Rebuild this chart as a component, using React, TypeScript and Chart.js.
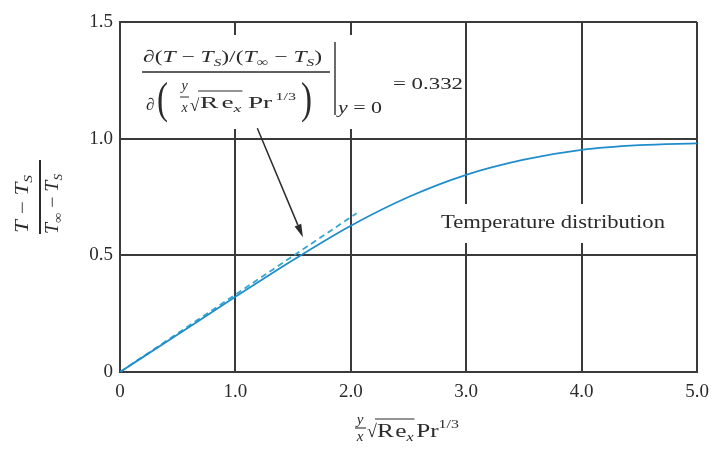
import React, { useEffect, useRef } from 'react';
import { Chart, registerables } from 'chart.js';

Chart.register(...registerables);

// Dimensionless boundary-layer coordinate (y/x)·√Re_x·Pr^(1/3)
const etaPoints = [0, 0.5, 1.0, 1.5, 2.0, 2.5, 3.0, 3.5, 4.0, 4.5, 5.0];
// Dimensionless temperature (T − T_S)/(T_∞ − T_S)
const thetaPoints = [0, 0.161, 0.322, 0.48, 0.627, 0.75, 0.845, 0.91, 0.952, 0.972, 0.98];
// Wall tangent, slope 0.332
const tangentEta = [0, 2.05];
const tangentTheta = [0, 0.68];

const xTickLabels = ['0', '1.0', '2.0', '3.0', '4.0', '5.0'];
const yTickLabels = ['0', '0.5', '1.0', '1.5'];
const slopeText = '= 0.332';
const curveText = 'Temperature distribution';
// Leader arrow from the gradient formula to the tangent line (axis units)
const arrowTail = [1.19, 1.045];
const arrowHead = [1.585, 0.578];

const SERIF = '"Liberation Serif", "Times New Roman", serif';
const INK = '#2b2b2b';
const GRID = '#3a3a3a';

type Run = { t: string; size?: number; it?: boolean; dy?: number; dx?: number };

function font(size: number, it?: boolean) {
  return `${it ? 'italic ' : ''}${size}px ${SERIF}`;
}

// Draws a row of text pieces; optionally stretched to a given width.
// Returns the canvas x range of every piece.
function drawRuns(
  ctx: CanvasRenderingContext2D,
  runs: Run[],
  x: number,
  y: number,
  width?: number,
  align: 'left' | 'center' = 'left'
): [number, number][] {
  let total = 0;
  const widths = runs.map((r) => {
    ctx.font = font(r.size ?? 17, r.it);
    const w = ctx.measureText(r.t).width;
    total += w + (r.dx ?? 0);
    return w;
  });
  const s = width ? width / total : 1;
  const x0 = align === 'center' ? x - (total * s) / 2 : x;
  const spans: [number, number][] = [];
  ctx.save();
  ctx.translate(x0, y);
  ctx.scale(s, 1);
  ctx.textAlign = 'left';
  ctx.textBaseline = 'alphabetic';
  let cx = 0;
  runs.forEach((r, i) => {
    cx += r.dx ?? 0;
    ctx.font = font(r.size ?? 17, r.it);
    ctx.fillText(r.t, cx, r.dy ?? 0);
    spans.push([x0 + cx * s, x0 + (cx + widths[i]) * s]);
    cx += widths[i];
  });
  ctx.restore();
  return spans;
}

function text(ctx: CanvasRenderingContext2D, t: string, x: number, y: number, size: number, it = false, align: CanvasTextAlign = 'left') {
  ctx.font = font(size, it);
  ctx.textAlign = align;
  ctx.textBaseline = 'alphabetic';
  ctx.fillText(t, x, y);
}

function hline(ctx: CanvasRenderingContext2D, x1: number, x2: number, y: number, w = 1.3) {
  ctx.beginPath();
  ctx.lineWidth = w;
  ctx.moveTo(x1, y);
  ctx.lineTo(x2, y);
  ctx.stroke();
}

const annotationPlugin = {
  id: 'heatTransferNotes',
  beforeDatasetsDraw(chart: any) {
    const { ctx } = chart;
    ctx.save();
    ctx.fillStyle = '#ffffff';
    // backdrop of the gradient formula
    ctx.fillRect(124, 35, 338, 94);
    // backdrop of the curve caption
    ctx.fillRect(436, 204, 232, 39);
    ctx.restore();
  },
  afterDraw(chart: any) {
    const { ctx, scales } = chart;
    const xs = scales.x;
    const ys = scales.y;
    ctx.save();
    ctx.fillStyle = INK;
    ctx.strokeStyle = INK;

    // ---- gradient formula ----
    drawRuns(
      ctx,
      [
        { t: '∂(' },
        { t: 'T', it: true },
        { t: ' − ' },
        { t: 'T', it: true },
        { t: 'S', it: true, size: 11, dy: 4 },
        { t: ')/(' },
        { t: 'T', it: true },
        { t: '∞', size: 12, dy: 4 },
        { t: ' − ' },
        { t: 'T', it: true },
        { t: 'S', it: true, size: 11, dy: 4 },
        { t: ')' },
      ],
      143,
      62,
      179
    );
    hline(ctx, 142, 330, 72, 1.4);
    text(ctx, '∂', 146, 110, 17);
    ctx.save();
    ctx.translate(157, 113);
    ctx.scale(0.75, 1);
    text(ctx, '(', 0, 0, 44);
    ctx.restore();
    text(ctx, 'y', 184.5, 90, 14, true, 'center');
    hline(ctx, 180, 189, 97, 1);
    text(ctx, 'x', 184.5, 112, 14, true, 'center');
    text(ctx, '√', 190, 111, 17);
    const den = drawRuns(
      ctx,
      [
        { t: 'R' },
        { t: 'e', dx: 2 },
        { t: 'x', it: true, size: 11, dy: 4 },
        { t: 'Pr', dx: 4 },
        { t: '1/3', size: 10, dy: -8, dx: 2 },
      ],
      200,
      108,
      96
    );
    hline(ctx, 198, den[2][1] + 1, 91, 1);
    ctx.save();
    ctx.translate(301, 113);
    ctx.scale(0.75, 1);
    text(ctx, ')', 0, 0, 44);
    ctx.restore();
    // evaluation bar
    ctx.beginPath();
    ctx.lineWidth = 1.4;
    ctx.moveTo(335, 42);
    ctx.lineTo(335, 115);
    ctx.stroke();
    drawRuns(ctx, [{ t: 'y', it: true }, { t: ' = 0' }], 338, 113, 44, 'left');
    drawRuns(ctx, [{ t: slopeText }], 393, 89, 70);

    // ---- curve caption ----
    drawRuns(ctx, [{ t: curveText, size: 18 }], 441, 228, 224);

    // ---- leader arrow ----
    const tx = xs.getPixelForValue(arrowTail[0]);
    const ty = ys.getPixelForValue(arrowTail[1]);
    const hx = xs.getPixelForValue(arrowHead[0]);
    const hy = ys.getPixelForValue(arrowHead[1]);
    const ang = Math.atan2(hy - ty, hx - tx);
    const len = 13;
    const half = 3.6;
    const bx = hx - len * Math.cos(ang);
    const by = hy - len * Math.sin(ang);
    ctx.beginPath();
    ctx.lineWidth = 1.5;
    ctx.moveTo(tx, ty);
    ctx.lineTo(bx, by);
    ctx.stroke();
    ctx.beginPath();
    ctx.moveTo(hx, hy);
    ctx.lineTo(bx + half * Math.sin(ang), by - half * Math.cos(ang));
    ctx.lineTo(bx - half * Math.sin(ang), by + half * Math.cos(ang));
    ctx.closePath();
    ctx.fill();

    // ---- y-axis title (rotated fraction) ----
    ctx.save();
    ctx.translate(40, 197);
    ctx.rotate(-Math.PI / 2);
    drawRuns(
      ctx,
      [
        { t: 'T', it: true, size: 18 },
        { t: ' − ', size: 18 },
        { t: 'T', it: true, size: 18 },
        { t: 'S', it: true, size: 12, dy: 4 },
      ],
      -7,
      -12,
      58,
      'center'
    );
    drawRuns(
      ctx,
      [
        { t: 'T', it: true, size: 18 },
        { t: '∞', size: 13, dy: 4 },
        { t: ' − ', size: 18 },
        { t: 'T', it: true, size: 18 },
        { t: 'S', it: true, size: 12, dy: 4 },
      ],
      -7,
      18,
      60,
      'center'
    );
    ctx.fillRect(-37, -1, 74, 2);
    ctx.restore();

    // ---- x-axis title ----
    text(ctx, 'y', 360, 424, 15, true, 'center');
    hline(ctx, 355, 366, 428, 1.1);
    text(ctx, 'x', 360, 441, 15, true, 'center');
    text(ctx, '√', 367, 437, 18);
    const ax = drawRuns(
      ctx,
      [
        { t: 'R', size: 19 },
        { t: 'e', size: 19, dx: 1 },
        { t: 'x', it: true, size: 12, dy: 4 },
        { t: 'Pr', size: 19, dx: 2 },
        { t: '1/3', size: 12, dy: -9 },
      ],
      377,
      437,
      82
    );
    hline(ctx, 375, ax[2][1] + 1, 419, 1.1);

    ctx.restore();
  },
};

export default function App() {
  const canvasRef = useRef<HTMLCanvasElement | null>(null);

  useEffect(() => {
    const canvas = canvasRef.current;
    if (!canvas) return;
    const chart = new Chart(canvas, {
      type: 'line',
      data: {
        datasets: [
          {
            label: 'Temperature distribution',
            data: etaPoints.map((x, i) => ({ x, y: thetaPoints[i] })),
            borderColor: '#1f8dcc',
            borderWidth: 1.8,
            pointRadius: 0,
            cubicInterpolationMode: 'monotone',
            fill: false,
          },
          {
            label: 'Wall gradient',
            data: tangentEta.map((x, i) => ({ x, y: tangentTheta[i] })),
            borderColor: '#35a7cf',
            borderWidth: 1.8,
            borderDash: [6, 4],
            pointRadius: 0,
            fill: false,
          },
        ],
      },
      options: {
        responsive: false,
        animation: false,
        devicePixelRatio: 1,
        layout: { padding: { top: 22, right: 16, left: 0, bottom: 0 } },
        plugins: {
          legend: { display: false },
          tooltip: { enabled: false },
          title: { display: false },
        },
        scales: {
          x: {
            type: 'linear',
            min: 0,
            max: 5,
            ticks: {
              stepSize: 1,
              padding: 9,
              color: INK,
              font: { family: SERIF, size: 19 },
              maxRotation: 0,
              callback: (_v: any, i: number) => xTickLabels[i],
            },
            grid: { color: GRID, lineWidth: 2, drawTicks: false },
            border: { color: GRID, width: 2 },
            afterFit: (s: any) => {
              s.height = 83;
              s.paddingLeft = 0;
              s.paddingRight = 0;
            },
          },
          y: {
            type: 'linear',
            min: 0,
            max: 1.5,
            ticks: {
              stepSize: 0.5,
              padding: 7,
              color: INK,
              font: { family: SERIF, size: 19 },
              callback: (_v: any, i: number) => yTickLabels[i],
            },
            grid: { color: GRID, lineWidth: 2, drawTicks: false },
            border: { color: GRID, width: 2 },
            afterFit: (s: any) => {
              s.width = 120;
              s.paddingTop = 0;
              s.paddingBottom = 0;
            },
          },
        },
      },
      plugins: [annotationPlugin],
    });
    return () => chart.destroy();
  }, []);

  return (
    <div style={{ position: 'fixed', left: 0, top: 0, width: 713, height: 455, background: '#fff' }}>
      <canvas ref={canvasRef} width={713} height={455} style={{ display: 'block' }} />
    </div>
  );
}
